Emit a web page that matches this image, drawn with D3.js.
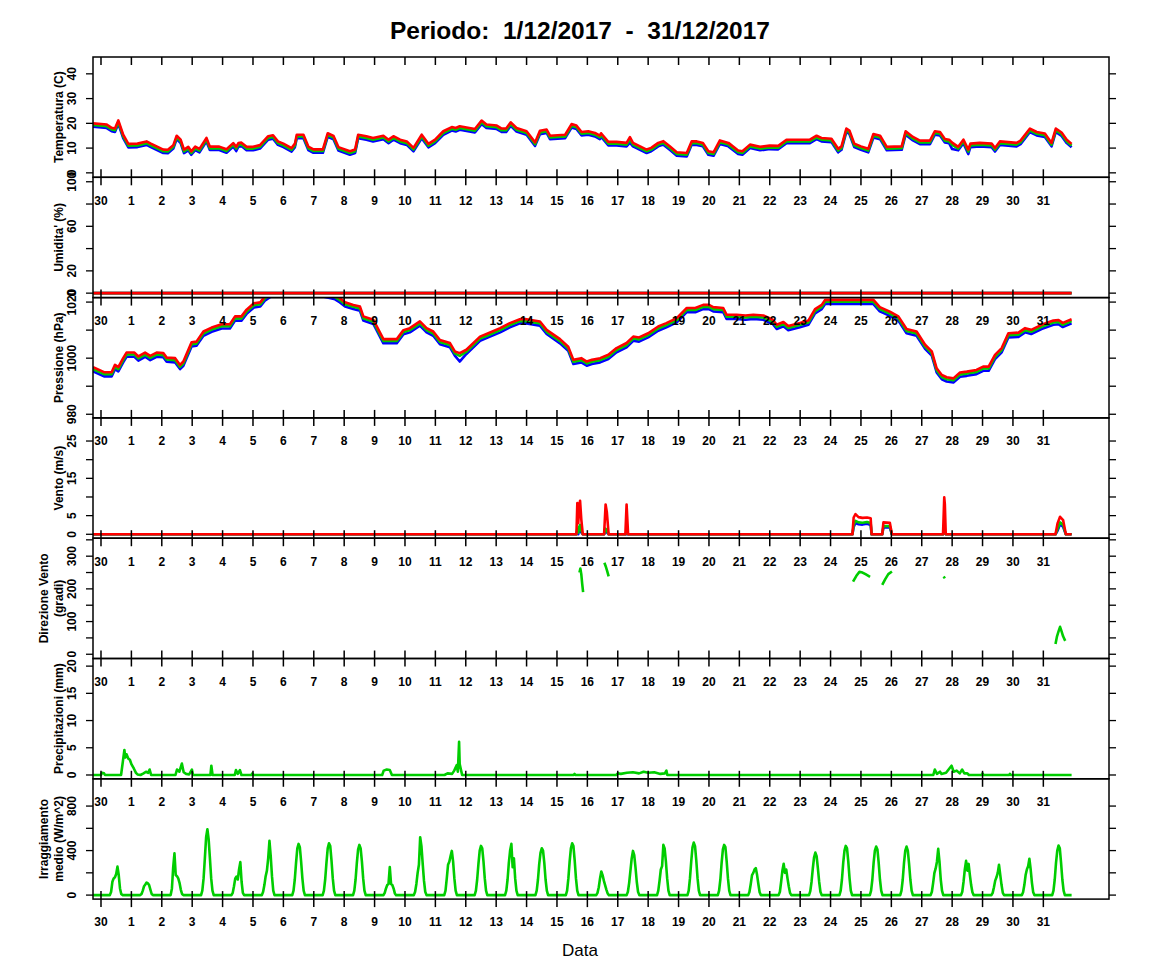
<!DOCTYPE html>
<html>
<head>
<meta charset="utf-8">
<script src="https://cdn.jsdelivr.net/npm/d3@7/dist/d3.min.js"></script>
<style>
body { margin: 0; background: #fff; }
svg text { font-family: "Liberation Sans", Arial, Helvetica, sans-serif; }
</style>
</head>
<body>
<div class="chart"></div>
<script>
// day labels on the time axis (first one is 30 Nov)
const dayLabels = ["30","1","2","3","4","5","6","7","8","9","10","11","12","13","14","15",
  "16","17","18","19","20","21","22","23","24","25","26","27","28","29","30","31"];

// y ticks / labels per panel
const tempTicks = [0, 10, 20, 30, 40],  tempLabels = [0, 10, 20, 30, 40];
const humTicks = [0, 20, 40, 60, 80, 100], humLabels = [0, 20, 60, 100];
const presTicks = [980, 990, 1000, 1010, 1020], presLabels = [980, 1000, 1020];
const windTicks = [0, 5, 10, 15, 20, 25], windLabels = [0, 5, 15, 25];
const dirTicks = [0, 50, 100, 150, 200, 250, 300, 350], dirLabels = [0, 100, 200, 300];
const rainTicks = [0, 5, 10, 15, 20], rainLabels = [0, 5, 10, 15, 20];
const irrTicks = [0, 200, 400, 600, 800], irrLabels = [0, 400, 800];

// temperature: [day, min, mean, max]
const tempRows = [
 [-0.26,18.6,19.3,20.0],[0.19,18.1,18.8,19.5],[0.35,16.8,17.5,18.2],[0.46,16.5,17.2,17.9],
 [0.49,17.4,18.1,18.8],[0.57,19.8,20.5,21.2],[0.73,14.0,14.7,15.4],[0.9,10.3,11.0,11.7],
 [1.2,10.4,11.1,11.8],[1.5,11.3,12.0,12.7],[1.64,10.4,11.1,11.8],[2.05,8.0,8.7,9.4],
 [2.2,7.9,8.6,9.3],[2.38,9.8,10.5,11.2],[2.49,13.6,14.3,15.0],[2.62,12.0,12.7,13.4],
 [2.73,8.0,8.7,9.4],[2.87,9.1,9.8,10.5],[2.97,7.3,8.0,8.7],[3.1,9.2,9.9,10.6],
 [3.24,8.3,9.0,9.7],[3.47,12.7,13.4,14.1],[3.58,9.2,9.9,10.6],[3.89,9.2,9.9,10.6],
 [4.13,8.1,8.8,9.5],[4.35,10.6,11.3,12.0],[4.45,8.8,9.8,10.5],[4.52,10.6,11.3,12.0],
 [4.62,10.8,11.5,12.2],[4.79,9.1,9.8,10.5],[5.0,9.1,9.8,10.5],[5.23,9.8,10.5,11.2],
 [5.5,13.4,14.1,14.8],[5.66,13.8,14.5,15.2],[5.82,11.3,12.0,12.7],[6.0,10.4,11.1,11.8],
 [6.27,8.6,9.3,10.0],[6.38,10.4,11.1,11.8],[6.44,14.0,14.7,15.4],[6.66,14.0,14.7,15.4],
 [6.82,9.2,9.9,10.6],[6.99,8.1,8.8,9.5],[7.3,8.1,8.8,9.5],[7.46,14.6,15.3,16.0],
 [7.65,13.5,14.2,14.9],[7.81,9.0,9.7,10.4],[8.19,7.3,8.0,8.7],[8.36,8.0,8.7,9.4],
 [8.46,14.0,14.7,15.4],[8.73,13.4,14.1,14.8],[8.95,12.7,13.4,14.1],[9.29,13.6,14.3,15.0],
 [9.46,12.0,12.7,13.4],[9.62,13.4,14.1,14.8],[9.84,12.0,12.7,13.4],[10.06,11.3,12.0,12.7],
 [10.28,8.7,9.4,10.1],[10.55,14.0,14.7,15.4],[10.77,10.3,11.0,11.7],[10.99,12.0,12.7,13.4],
 [11.26,15.4,16.1,16.8],[11.54,17.1,17.8,18.5],[11.67,16.7,17.4,18.1],[11.8,17.4,18.1,18.8],
 [12.3,16.3,17.0,17.7],[12.52,19.7,20.4,21.1],[12.68,18.1,18.8,19.5],[13.02,17.7,18.4,19.1],
 [13.18,16.5,17.2,17.9],[13.33,16.5,17.2,17.9],[13.48,19.0,19.7,20.4],[13.67,16.7,17.4,18.1],
 [14.0,15.4,16.1,16.8],[14.28,10.9,11.6,12.3],[14.44,15.6,16.3,17.0],[14.66,16.1,16.8,17.5],
 [14.77,13.6,14.3,15.0],[15.27,14.0,14.7,15.4],[15.48,18.3,19.0,19.7],[15.64,17.7,18.4,19.1],
 [15.81,15.1,15.8,16.5],[16.03,15.4,16.1,16.8],[16.25,14.7,15.4,16.1],[16.41,13.6,14.3,15.0],
 [16.45,14.6,15.3,16.0],[16.69,11.1,11.8,12.5],[16.96,11.1,11.8,12.5],[17.29,10.7,11.4,12.1],
 [17.4,12.2,13.4,14.4],[17.5,10.7,11.4,12.1],[17.95,8.0,8.7,9.4],[18.1,8.7,9.4,10.1],
 [18.33,10.7,11.4,12.1],[18.5,11.4,12.1,12.8],[18.71,9.3,10.0,10.7],[18.94,6.9,7.6,8.3],
 [19.27,6.6,7.3,8.0],[19.43,11.3,12.0,12.7],[19.6,11.3,12.0,12.7],[19.8,10.7,11.4,12.1],
 [19.98,7.3,8.0,8.7],[20.15,6.9,7.6,8.3],[20.36,11.7,12.4,13.1],[20.64,10.7,11.4,12.1],
 [20.96,7.6,8.3,9.0],[21.1,7.3,8.0,8.7],[21.35,10.0,10.7,11.4],[21.68,9.1,9.8,10.5],
 [22.0,9.6,10.3,11.0],[22.28,9.5,10.2,10.9],[22.55,12.0,12.7,13.4],[23.32,12.0,12.7,13.4],
 [23.54,13.6,14.3,15.0],[23.7,12.7,13.4,14.1],[24.03,12.4,13.1,13.8],[24.25,8.3,9.0,9.7],
 [24.36,9.3,10.0,10.7],[24.52,16.5,17.2,17.9],[24.62,15.7,16.4,17.1],[24.78,10.4,11.1,11.8],
 [25.0,9.3,10.0,10.7],[25.24,8.3,9.0,9.7],[25.41,14.3,15.0,15.7],[25.63,13.6,14.3,15.0],
 [25.85,9.1,9.8,10.5],[26.34,9.3,10.0,10.7],[26.47,15.4,16.1,16.8],[26.71,13.1,13.8,14.5],
 [26.94,11.6,12.3,13.0],[27.27,11.6,12.3,13.0],[27.43,15.4,16.1,16.8],[27.6,15.1,15.8,16.5],
 [27.76,12.3,13.0,13.7],[27.9,12.0,12.7,13.4],[28.0,9.6,11.3,12.2],[28.2,9.1,9.8,10.5],
 [28.37,12.0,12.7,13.4],[28.53,7.6,8.6,9.4],[28.6,10.4,11.1,11.8],[28.91,10.7,11.4,12.1],
 [29.3,10.4,11.1,11.8],[29.41,8.6,9.3,10.0],[29.57,11.3,12.0,12.7],[30.12,10.7,11.4,12.1],
 [30.25,11.6,12.3,13.0],[30.56,16.5,17.2,17.9],[30.78,15.1,15.8,16.5],[31.05,14.5,15.2,15.9],
 [31.27,10.7,11.4,12.1],[31.41,16.5,17.2,17.9],[31.6,14.9,15.6,16.3],[31.77,12.0,12.7,13.4],
 [31.93,10.3,11.0,11.7]
];

// humidity: sensor reads zero all month
const humRows = [[-0.26,0,0,0],[31.93,0,0,0]];

// pressure: [day, min, mean, max]
const presRows = [
 [-0.26,995.3,996.1,996.8],[0.1,993.5,994.3,995.0],[0.35,993.5,994.3,995.0],[0.46,996.1,996.9,997.6],
 [0.57,995.3,996.1,996.8],[0.73,998.5,999.3,1000.0],[0.84,1000.5,1001.3,1002.0],[1.1,1000.5,1001.3,1002.0],
 [1.23,999.1,999.9,1000.6],[1.45,1000.5,1001.3,1002.0],[1.62,999.3,1000.1,1000.8],[1.83,1000.5,1001.3,1002.0],
 [2.05,1000.3,1001.1,1001.8],[2.16,998.7,999.5,1000.2],[2.44,998.5,999.3,1000.0],[2.6,996.1,996.9,997.6],
 [2.71,997.3,998.1,998.8],[2.98,1004.2,1005.0,1005.7],[3.14,1004.4,1005.2,1005.9],[3.37,1008.0,1008.8,1009.5],
 [3.64,1009.4,1010.2,1010.9],[3.97,1010.6,1011.4,1012.1],[4.24,1010.6,1011.4,1012.1],[4.41,1013.4,1014.2,1014.9],
 [4.62,1013.4,1014.2,1014.9],[4.79,1015.8,1016.6,1017.3],[5.03,1018.1,1018.9,1019.6],[5.24,1018.4,1019.2,1019.9],
 [5.39,1020.5,1021.3,1022.0],[5.6,1022.0,1022.8,1023.5],[6.5,1023.0,1023.8,1024.5],[7.3,1022.0,1022.8,1023.5],
 [7.7,1021.0,1021.8,1022.5],[7.86,1019.9,1020.7,1021.4],[8.03,1018.4,1019.2,1019.9],[8.3,1017.5,1018.3,1019.0],
 [8.52,1016.9,1017.7,1018.4],[8.63,1013.4,1014.2,1014.9],[8.96,1012.2,1013.0,1013.7],[9.29,1005.3,1006.1,1006.8],
 [9.73,1005.3,1006.1,1006.8],[9.95,1008.5,1009.3,1010.0],[10.16,1009.2,1010.0,1010.7],[10.49,1011.6,1012.4,1013.1],
 [10.71,1009.2,1010.0,1010.7],[10.93,1008.0,1008.8,1009.5],[11.15,1005.0,1005.8,1006.5],[11.48,1003.9,1004.7,1005.4],
 [11.64,1000.9,1001.7,1002.4],[11.8,998.8,1000.8,1001.8],[12.02,1001.5,1002.3,1003.0],[12.47,1006.2,1007.0,1007.7],
 [12.74,1007.4,1008.2,1008.9],[13.13,1009.2,1010.0,1010.7],[13.45,1011.0,1011.8,1012.5],[13.78,1012.4,1013.2,1013.9],
 [13.95,1012.5,1013.3,1014.0],[14.44,1011.6,1012.4,1013.1],[14.66,1008.6,1009.4,1010.1],[15.1,1005.3,1006.1,1006.8],
 [15.37,1002.6,1003.4,1004.1],[15.54,997.9,998.7,999.4],[15.8,998.5,999.3,1000.0],[15.98,997.3,998.1,998.8],
 [16.15,997.9,998.7,999.4],[16.42,998.5,999.3,1000.0],[16.69,999.7,1000.5,1001.2],[16.96,1002.1,1002.9,1003.6],
 [17.29,1003.9,1004.7,1005.4],[17.51,1006.2,1007.0,1007.7],[17.7,1005.9,1006.7,1007.4],[18.0,1007.4,1008.2,1008.9],
 [18.33,1009.8,1010.6,1011.3],[18.6,1011.0,1011.8,1012.5],[18.94,1012.8,1013.6,1014.3],[19.27,1016.4,1017.2,1017.9],
 [19.55,1016.4,1017.2,1017.9],[19.81,1017.5,1018.3,1019.0],[20.0,1017.5,1018.3,1019.0],[20.14,1016.7,1017.5,1018.2],
 [20.47,1016.4,1017.2,1017.9],[20.58,1014.0,1014.8,1015.5],[20.91,1014.0,1014.8,1015.5],[21.2,1013.7,1014.5,1015.2],
 [21.46,1014.0,1014.8,1015.5],[21.79,1013.7,1014.5,1015.2],[22.1,1012.2,1013.0,1013.7],[22.23,1010.4,1011.2,1011.9],
 [22.45,1011.4,1012.2,1012.9],[22.61,1010.0,1010.8,1011.5],[22.99,1011.0,1011.8,1012.5],[23.27,1011.9,1012.7,1013.4],
 [23.49,1016.0,1016.8,1017.5],[23.71,1017.5,1018.3,1019.0],[23.82,1019.3,1020.1,1020.8],[24.64,1019.3,1020.1,1020.8],
 [25.41,1019.3,1020.1,1020.8],[25.62,1016.7,1017.5,1018.2],[25.95,1015.1,1015.9,1016.6],[26.23,1013.4,1014.2,1014.9],
 [26.5,1008.9,1009.7,1010.4],[26.83,1008.0,1008.8,1009.5],[27.11,1003.3,1004.1,1004.8],[27.33,1000.9,1001.7,1002.4],
 [27.49,994.9,995.7,996.4],[27.66,992.5,993.3,994.0],[27.82,991.7,992.5,993.2],[28.04,991.3,992.1,992.8],
 [28.26,993.4,994.2,994.9],[28.48,993.7,994.5,995.2],[28.8,994.3,995.1,995.8],[29.02,995.5,996.3,997.0],
 [29.2,995.5,996.3,997.0],[29.41,999.7,1000.5,1001.2],[29.63,1002.1,1002.9,1003.6],[29.85,1007.4,1008.2,1008.9],
 [30.18,1007.6,1008.4,1009.1],[30.4,1009.2,1010.0,1010.7],[30.6,1008.6,1009.4,1010.1],[30.94,1010.4,1011.2,1011.9],
 [31.33,1011.9,1012.7,1013.4],[31.5,1012.1,1012.9,1013.6],[31.64,1011.1,1011.9,1012.6],[31.93,1012.4,1013.2,1013.9]
];

// wind speed: [day, min, mean, gust]
const windRows = [
 [-0.26,0,0,0],[15.64,0,0,0],[15.67,1,1.5,8.4],[15.7,0,0.5,3],[15.73,1.5,2,7],[15.76,2,2.5,9.0],
 [15.8,0.5,1,4],[15.85,0,0,0],[16.55,0,0,0],[16.6,1,1.5,8.0],[16.64,0.5,1,6],[16.7,0,0,0],
 [17.25,0,0,0],[17.29,0,0.5,8.0],[17.34,0,0,0],[24.72,0,0,0],[24.76,2,2.5,4.5],[24.82,3,3.6,5.4],
 [24.92,2.7,3.2,4.6],[25.05,2.6,3.1,4.4],[25.2,2.8,3.3,4.5],[25.32,2.5,3.0,4.3],[25.35,0,0,0],
 [25.7,0,0,0],[25.74,1.8,2.2,3.2],[25.95,1.8,2.2,3.1],[26.02,0,0,0],[27.7,0,0,0],[27.74,0.3,0.5,9.9],
 [27.76,0.2,0.3,8],[27.79,0,0,0],[31.4,0,0,0],[31.47,1,1.5,3.0],[31.55,2.7,3.2,4.7],[31.65,2,2.5,3.8],
 [31.74,0,0,0],[31.93,0,0,0]
];

// wind direction (only while wind blows): [day, degrees], null = gap
const dirRows = [
 [15.74,250],[15.77,262],[15.8,245],[15.83,215],[15.86,190],[15.9,null],
 [16.56,280],[16.6,270],[16.65,255],[16.7,238],[16.75,null],
 [24.74,222],[24.85,240],[24.95,252],[25.05,250],[25.15,245],[25.3,237],[25.4,null],
 [25.7,212],[25.8,230],[25.9,245],[26.02,253],[26.1,null],
 [27.72,238],[27.76,232],[27.8,null],
 [31.4,31],[31.45,55],[31.5,70],[31.55,84],[31.6,70],[31.65,55],[31.72,41]
];

// precipitation: [day, mm]
const rainRows = [
 [-0.26,0],[0.0,0],[0.03,0.4],[0.1,0.3],[0.13,0],[0.66,0],[0.72,2.5],[0.77,4.6],[0.8,3.2],[0.84,3.8],
 [0.9,3.0],[0.95,2.8],[1.0,2.0],[1.08,1.2],[1.15,0.4],[1.2,0.1],[1.3,0],[1.4,0.3],[1.48,0.6],[1.55,0.4],
 [1.6,1.0],[1.65,0],[2.45,0],[2.5,1.0],[2.58,0.6],[2.66,2.1],[2.72,0.5],[2.8,0.2],[2.9,0.1],[2.99,1.0],
 [3.03,0],[3.6,0],[3.63,1.7],[3.67,0],[4.4,0],[4.44,0.9],[4.5,0.2],[4.57,0.9],[4.62,0],[4.95,0],
 [4.98,0.3],[5.02,0],[9.25,0],[9.3,0.8],[9.4,1.0],[9.5,0.9],[9.57,0],[11.3,0],[11.4,0.3],[11.55,0.2],
 [11.62,0.8],[11.7,1.8],[11.74,0.6],[11.78,6.1],[11.8,2.0],[11.84,1.0],[11.88,0],[15.55,0],[15.58,0.2],
 [15.6,0],[16.95,0],[17.0,0.3],[17.1,0.2],[17.3,0.4],[17.5,0.5],[17.7,0.3],[17.85,0.6],[18.0,0.4],
 [18.2,0.5],[18.4,0.2],[18.55,0.3],[18.6,0.8],[18.63,0],[27.38,0],[27.43,1.0],[27.5,0.2],[27.6,0.6],
 [27.65,0.2],[27.8,0.4],[27.98,1.7],[28.05,0.6],[28.15,0.8],[28.25,0.3],[28.33,1.0],[28.4,0.3],
 [28.5,0.3],[28.55,0],[28.98,0],[29.0,0.3],[29.03,0],[29.88,0],[29.9,0.2],[29.93,0],[31.93,0]
];

// mean irradiance: hourly values 7h..17h for each day (30 Nov .. 31 Dec)
const irrHours = [7, 8, 9, 10, 11, 12, 13, 14, 15, 16, 17];
const irrDays = [
 [0, 30, 120, 150, 160, 190, 256, 180, 60, 10, 0],
 [0, 10, 40, 80, 95, 113, 105, 90, 50, 10, 0],
 [0, 60, 250, 376, 180, 170, 150, 110, 50, 10, 0],
 [0, 40, 150, 330, 520, 592, 500, 330, 150, 40, 0],
 [0, 20, 80, 150, 167, 140, 230, 296, 120, 20, 0],
 [0, 30, 90, 170, 220, 330, 487, 350, 170, 40, 0],
 [0, 40, 140, 290, 420, 460, 430, 300, 150, 40, 0],
 [0, 40, 140, 290, 420, 466, 440, 310, 150, 40, 0],
 [0, 40, 140, 290, 410, 451, 420, 300, 150, 40, 0],
 [0, 20, 60, 90, 100, 251, 100, 90, 60, 15, 0],
 [0, 30, 100, 200, 272, 520, 440, 280, 130, 30, 0],
 [0, 40, 150, 272, 300, 350, 397, 300, 150, 40, 0],
 [0, 40, 140, 280, 400, 442, 420, 300, 150, 40, 0],
 [0, 40, 140, 290, 400, 460, 250, 330, 150, 40, 0],
 [0, 40, 140, 280, 380, 421, 400, 290, 140, 40, 0],
 [0, 40, 150, 300, 420, 466, 440, 310, 150, 40, 0],
 [0, 20, 70, 150, 212, 180, 130, 90, 50, 15, 0],
 [0, 30, 110, 220, 330, 397, 360, 250, 120, 30, 0],
 [0, 40, 130, 230, 260, 451, 420, 300, 150, 40, 0],
 [0, 40, 150, 300, 430, 472, 440, 310, 150, 40, 0],
 [0, 40, 140, 290, 410, 451, 430, 300, 150, 40, 0],
 [0, 30, 100, 180, 200, 230, 242, 180, 100, 25, 0],
 [0, 30, 120, 220, 281, 200, 230, 150, 80, 20, 0],
 [0, 35, 120, 240, 340, 382, 350, 240, 120, 30, 0],
 [0, 40, 140, 290, 400, 442, 420, 300, 150, 40, 0],
 [0, 40, 140, 290, 400, 436, 410, 290, 140, 40, 0],
 [0, 40, 140, 290, 400, 436, 400, 280, 140, 40, 0],
 [0, 30, 110, 200, 240, 300, 415, 300, 140, 40, 0],
 [0, 30, 120, 230, 308, 220, 280, 180, 90, 25, 0],
 [0, 20, 70, 130, 160, 200, 272, 180, 90, 20, 0],
 [0, 25, 90, 180, 230, 260, 326, 230, 110, 25, 0],
 [0, 40, 140, 290, 400, 445, 420, 290, 140, 40, 0]
];

const blue = "#0000ff", green = "#00cd00", red = "#ff0000";

var width = 1152, height = 972;
var left = 93, right = 1109, top0 = 57, ph = 120.3;

// irradiance rows flattened to [day, value]
let irrRows = [[-0.26, 0]];
irrDays.forEach((vals, d) => {
    vals.forEach((v, i) => irrRows.push([d + irrHours[i] / 24, v]));
});
irrRows.push([31.93, 0]);

let panels = [
    {title: ["Temperatura (C)"], domain: [-1.8, 46.8], ticks: tempTicks, labels: tempLabels,
        rows: tempRows, colors: [blue, green, red]},
    {title: ["Umidita' (%)"], domain: [-4, 104], ticks: humTicks, labels: humLabels,
        rows: humRows, colors: [blue, green, red]},
    {title: ["Pressione (hPa)"], domain: [978.7, 1021.6], ticks: presTicks, labels: presLabels,
        rows: presRows, colors: [blue, green, red]},
    {title: ["Vento (m/s)"], domain: [-1.05, 31.2], ticks: windTicks, labels: windLabels,
        rows: windRows, colors: [blue, green, red]},
    {title: ["Direzione Vento", "(gradi)"], domain: [-13, 355], ticks: dirTicks, labels: dirLabels,
        rows: dirRows, colors: [green]},
    {title: ["Precipitazioni (mm)"], domain: [-0.7, 21.4], ticks: rainTicks, labels: rainLabels,
        rows: rainRows, colors: [green]},
    {title: ["Irraggiamento", "medio (W/m^2)"], domain: [-36, 1045], ticks: irrTicks, labels: irrLabels,
        rows: irrRows, colors: [green]}
];

let x = d3.scaleLinear()
    .domain([-0.263, 33.16])
    .range([left, right]);

let svg = d3.select('.chart')
    .append('svg')
    .attr('width', width)
    .attr('height', height);

svg.append('text')
    .attr('x', 580)
    .attr('y', 38.5)
    .attr('text-anchor', 'middle')
    .attr('font-size', 24.5)
    .attr('font-weight', 'bold')
    .style('white-space', 'pre')
    .text('Periodo:  1/12/2017  -  31/12/2017');

panels.forEach((p, i) => {
    let top = top0 + i * ph;
    let y = d3.scaleLinear().domain(p.domain).range([top + ph, top]);
    let g = svg.append('g');

    g.append('clipPath')
        .attr('id', 'clip' + i)
        .append('rect')
        .attr('x', left).attr('y', top)
        .attr('width', right - left).attr('height', ph);

    let lines = g.append('g').attr('clip-path', `url(#clip${i})`);
    p.colors.forEach((c, k) => {
        let line = d3.line()
            .defined(d => d[k + 1] != null)
            .x(d => x(d[0]))
            .y(d => y(d[k + 1]));
        lines.append('path')
            .datum(p.rows)
            .attr('d', line)
            .attr('fill', 'none')
            .attr('stroke', c)
            .attr('stroke-width', 2.6)
            .attr('stroke-linejoin', 'round');
    });

    // left and right ticks
    p.ticks.forEach(t => {
        g.append('line')
            .attr('x1', left - 7).attr('x2', left)
            .attr('y1', y(t)).attr('y2', y(t))
            .attr('stroke', 'black').attr('stroke-width', 1.3);
        g.append('line')
            .attr('x1', right).attr('x2', right + 7)
            .attr('y1', y(t)).attr('y2', y(t))
            .attr('stroke', 'black').attr('stroke-width', 1.3);
    });
    p.labels.forEach(t => {
        g.append('text')
            .attr('transform', `translate(72,${y(t)}) rotate(-90)`)
            .attr('dy', '0.35em')
            .attr('text-anchor', 'middle')
            .attr('font-size', 12)
            .attr('font-weight', 'bold')
            .text(t);
    });

    // axis title, one or two lines
    let tx = p.title.length === 1 ? [58.5] : [44, 58.5];
    p.title.forEach((s, j) => {
        g.append('text')
            .attr('transform', `translate(${tx[j]},${top + ph / 2}) rotate(-90)`)
            .attr('dy', '0.35em')
            .attr('text-anchor', 'middle')
            .attr('font-size', 12)
            .attr('font-weight', 'bold')
            .text(s);
    });

    g.append('rect')
        .attr('x', left).attr('y', top)
        .attr('width', right - left).attr('height', ph)
        .attr('fill', 'none')
        .attr('stroke', 'black')
        .attr('stroke-width', 1.5);
});

// day ticks and labels on every panel boundary
for (let b = 0; b <= panels.length; b++) {
    let yb = top0 + b * ph;
    let y1 = b === 0 ? yb : yb - 8;
    let y2 = yb + 8;
    dayLabels.forEach((lab, d) => {
        svg.append('line')
            .attr('x1', x(d)).attr('x2', x(d))
            .attr('y1', y1).attr('y2', y2)
            .attr('stroke', 'black').attr('stroke-width', 1.5);
        if (b > 0) {
            svg.append('text')
                .attr('x', x(d))
                .attr('y', yb + 27.3)
                .attr('text-anchor', 'middle')
                .attr('font-size', 12)
                .attr('font-weight', 'bold')
                .text(lab);
        }
    });
}

svg.append('text')
    .attr('x', 580)
    .attr('y', 956)
    .attr('text-anchor', 'middle')
    .attr('font-size', 17)
    .text('Data');
</script>
</body>
</html>
